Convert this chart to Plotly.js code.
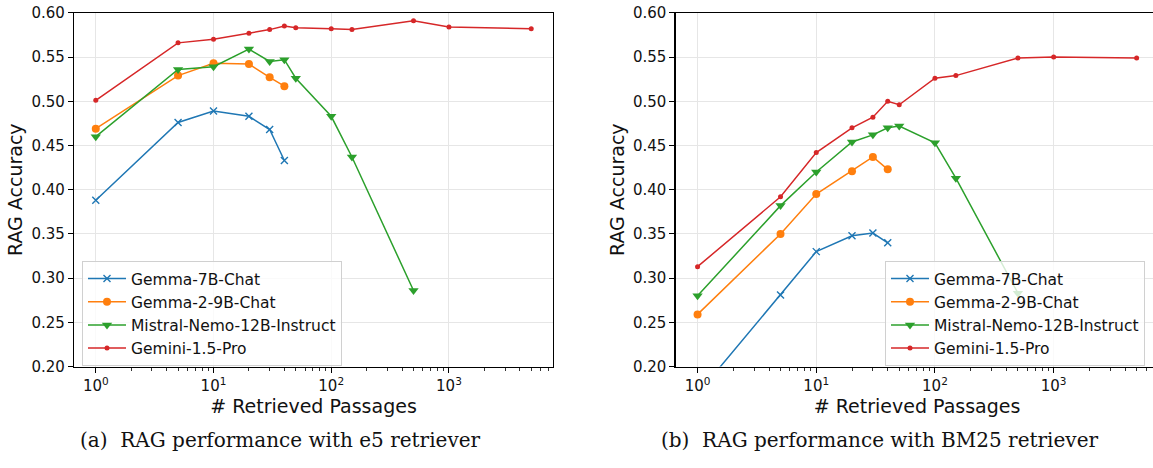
<!DOCTYPE html>
<html>
<head>
<meta charset="utf-8">
<script src="https://cdn.plot.ly/plotly-3.0.1.min.js"></script>
<style>
html, body { margin: 0; padding: 0; overflow: hidden; background: #fff; }
#chart { width: 1165px; height: 468px; }
</style>
</head>
<body>
<div id="chart"></div>
<script>
// Number of retrieved passages per series
const xGemma = [1, 5, 10, 20, 30, 40];
const xMistral = [1, 5, 10, 20, 30, 40, 50, 100, 150, 500];
const xGemini = [1, 5, 10, 20, 30, 40, 50, 100, 150, 500, 1000, 5000];

// (a) e5 retriever
const gemma7bE5 = [0.388, 0.476, 0.489, 0.483, 0.468, 0.433];
const gemma2E5 = [0.469, 0.529, 0.543, 0.542, 0.527, 0.517];
const mistralE5 = [0.460, 0.536, 0.539, 0.559, 0.545, 0.547, 0.526, 0.483, 0.437, 0.286];
const geminiE5 = [0.501, 0.566, 0.570, 0.577, 0.581, 0.585, 0.583, 0.582, 0.581, 0.591, 0.584, 0.582];

// (b) BM25 retriever
const gemma7bBM = [0.169, 0.281, 0.330, 0.348, 0.351, 0.340];
const gemma2BM = [0.259, 0.350, 0.395, 0.421, 0.437, 0.423];
const mistralBM = [0.280, 0.382, 0.420, 0.454, 0.462, 0.470, 0.472, 0.453, 0.413, 0.283];
const geminiBM = [0.313, 0.392, 0.442, 0.470, 0.482, 0.500, 0.496, 0.526, 0.529, 0.549, 0.550, 0.549];

const seriesNames = ['Gemma-7B-Chat', 'Gemma-2-9B-Chat', 'Mistral-Nemo-12B-Instruct', 'Gemini-1.5-Pro'];
const tickVals = [1, 10, 100, 1000];
const tickText = ['10<sup>0</sup>', '10<sup>1</sup>', '10<sup>2</sup>', '10<sup>3</sup>'];
const captions = ['(a)  RAG performance with e5 retriever', '(b)  RAG performance with BM25 retriever'];
const yTitle = 'RAG Accuracy';
const xTitle = '# Retrieved Passages';

const colors = ['#1f77b4', '#ff7f0e', '#2ca02c', '#d62728'];
const markers = [
  {symbol: 'x-thin-open', size: 7, line: {width: 1.4, color: colors[0]}, color: colors[0]},
  {symbol: 'circle', size: 8, color: colors[1]},
  {symbol: 'triangle-down', size: 9, color: colors[2]},
  {symbol: 'circle', size: 5, color: colors[3]}
];

const minorVals = [];
for (let d = 1; d <= 10000; d *= 10) for (let k = 2; k <= 9; k++) minorVals.push(k * d);

function mk(x, y, i, xa, ya, leg) {
  return {
    x: x, y: y, type: 'scatter', mode: 'lines+markers',
    name: seriesNames[i], xaxis: xa, yaxis: ya, legend: leg,
    legendgroup: leg + i,
    line: {color: colors[i], width: 1.5},
    marker: markers[i],
    cliponaxis: true
  };
}

const traces = [
  mk(xGemma, gemma7bE5, 0, 'x', 'y', 'legend'),
  mk(xGemma, gemma2E5, 1, 'x', 'y', 'legend'),
  mk(xMistral, mistralE5, 2, 'x', 'y', 'legend'),
  mk(xGemini, geminiE5, 3, 'x', 'y', 'legend'),
  mk(xGemma, gemma7bBM, 0, 'x2', 'y2', 'legend2'),
  mk(xGemma, gemma2BM, 1, 'x2', 'y2', 'legend2'),
  mk(xMistral, mistralBM, 2, 'x2', 'y2', 'legend2'),
  mk(xGemini, geminiBM, 3, 'x2', 'y2', 'legend2')
];

const W = 1165, H = 468;
const font = {family: 'DejaVu Sans', size: 15, color: '#111'};

function xaxis(dom, anchor) {
  return {
    type: 'log', domain: dom, anchor: anchor,
    range: [-0.185, 3.884],
    tickmode: 'array', tickvals: tickVals, ticktext: tickText,
    ticks: 'outside', ticklen: 5, tickwidth: 1, tickcolor: '#000',
    showline: true, linecolor: '#000', linewidth: 1.2, mirror: true,
    showgrid: true, gridcolor: '#e6e6e6', gridwidth: 1,
    zeroline: false,
    minor: {tickmode: 'array', tickvals: minorVals, ticks: 'outside', ticklen: 3, tickwidth: 0.8, tickcolor: '#000', showgrid: false},
    tickfont: {family: 'DejaVu Sans', size: 15, color: '#111'},
    title: {text: xTitle, font: {family: 'DejaVu Sans', size: 19, color: '#111'}, standoff: 1}
  };
}
function yaxis(dom, anchor) {
  return {
    domain: dom, anchor: anchor,
    range: [0.2, 0.6], dtick: 0.05, tick0: 0.2, tickformat: '.2f',
    ticks: 'outside', ticklen: 5, tickwidth: 1, tickcolor: '#000',
    showline: true, linecolor: '#000', linewidth: 1.2, mirror: true,
    showgrid: true, gridcolor: '#e6e6e6', gridwidth: 1,
    zeroline: false,
    tickfont: {family: 'DejaVu Sans', size: 15, color: '#111'},
    title: {text: yTitle, font: {family: 'DejaVu Sans', size: 19, color: '#111'}, standoff: 3}
  };
}

const yDom = [(H - 366.6) / H, (H - 12.8) / H];
const legendBase = {
  bgcolor: 'rgba(255,255,255,0.8)', bordercolor: '#d0d0d0', borderwidth: 1,
  font: {family: 'DejaVu Sans', size: 15.5, color: '#111'},
  xanchor: 'left', yanchor: 'top', traceorder: 'grouped', tracegroupgap: 0,
  itemwidth: 38
};

const layout = {
  width: W, height: H,
  margin: {l: 0, r: 0, t: 0, b: 0},
  paper_bgcolor: '#fff', plot_bgcolor: '#fff',
  font: font,
  xaxis: xaxis([74 / W, 553 / W], 'y'),
  yaxis: yaxis(yDom, 'x'),
  xaxis2: xaxis([675.6 / W, 1158.6 / W], 'y2'),
  yaxis2: yaxis(yDom, 'x2'),
  legend: Object.assign({}, legendBase, {x: 82 / W, y: (H - 261) / H}),
  legend2: Object.assign({}, legendBase, {x: 885 / W, y: (H - 261) / H}),
  annotations: [
    {text: captions[0], xref: 'paper', yref: 'paper', x: 280.5 / W, y: (H - 440) / H,
     xanchor: 'center', yanchor: 'middle', showarrow: false,
     font: {family: 'DejaVu Serif', size: 20, color: '#111'}},
    {text: captions[1], xref: 'paper', yref: 'paper', x: 879 / W, y: (H - 440) / H,
     xanchor: 'center', yanchor: 'middle', showarrow: false,
     font: {family: 'DejaVu Serif', size: 20, color: '#111'}}
  ],
  showlegend: true
};

Plotly.newPlot('chart', traces, layout, {displayModeBar: false, staticPlot: true});
</script>
</body>
</html>
